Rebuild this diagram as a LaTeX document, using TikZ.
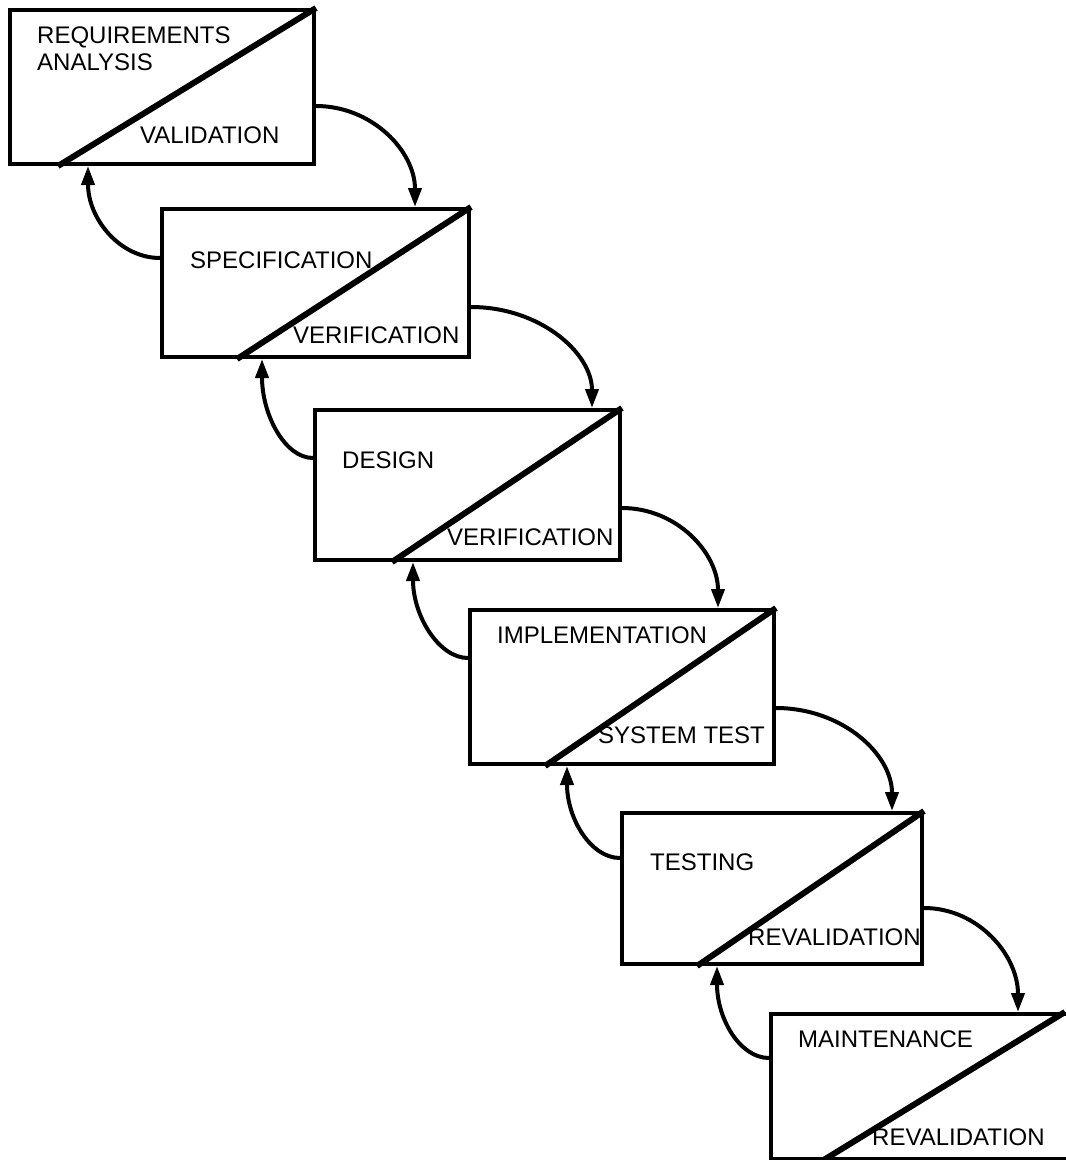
\documentclass[tikz,border=0pt]{standalone}
\usepackage{fontspec}
\setmainfont{Liberation Sans}
\usetikzlibrary{arrows.meta,calc}
\begin{document}
\begin{tikzpicture}[x=1pt,y=-1pt,
  stage/.style={draw,line width=4pt,rectangle,inner sep=0pt,anchor=north west},
  split/.style={line width=6pt,line cap=butt},
  lbl/.style={anchor=base west,inner sep=0pt,font=\fontsize{24}{26}\selectfont},
  flow/.style={line width=4pt,-{Triangle[length=19pt,width=13pt]}}
]
\clip (0,0) rectangle (1066,1160);
\fill[white] (0,0) rectangle (1066,1160);

% phase boxes
\node[stage,minimum width=304pt,minimum height=154pt] (b1) at (8,8) {};
\node[stage,minimum width=307pt,minimum height=148pt] (b2) at (160,207) {};
\node[stage,minimum width=305pt,minimum height=150pt] (b3) at (313,408) {};
\node[stage,minimum width=304pt,minimum height=154pt] (b4) at (468,608) {};
\node[stage,minimum width=300pt,minimum height=151pt] (b5) at (620,811) {};
\node[stage,minimum width=300pt,minimum height=145pt] (b6) at (769,1012) {};

% diagonal splits
\draw[split] ($(b1.south west)+(50,0)$) -- (b1.north east);
\draw[split] ($(b2.south west)+(77,0)$) -- (b2.north east);
\draw[split] ($(b3.south west)+(79,0)$) -- (b3.north east);
\draw[split] ($(b4.south west)+(77,0)$) -- (b4.north east);
\draw[split] ($(b5.south west)+(77,0)$) -- (b5.north east);
\draw[split] ($(b6.south west)+(53,0)$) -- ($(b6.north west)+(296,0)$);

% labels
\node[lbl] (t1a) at (37,43) {REQUIREMENTS};
\node[lbl] (t1b) at (37,70) {ANALYSIS};
\node[lbl] (t1c) at (140,143) {VALIDATION};
\node[lbl] (t2a) at (190,268) {SPECIFICATION};
\node[lbl] (t2b) at (293,343) {VERIFICATION};
\node[lbl] (t3a) at (342,468) {DESIGN};
\node[lbl] (t3b) at (447,545) {VERIFICATION};
\node[lbl] (t4a) at (497,643) {IMPLEMENTATION};
\node[lbl] (t4b) at (598,743) {SYSTEM TEST};
\node[lbl] (t5a) at (650,870) {TESTING};
\node[lbl] (t5b) at (748,945) {REVALIDATION};
\node[lbl] (t6a) at (798,1047) {MAINTENANCE};
\node[lbl] (t6b) at (872,1145) {REVALIDATION};

% forward flow
\draw[flow] ($(b1.north east)+(0,98)$) .. controls +(56,0) and +(0,-56) .. ($(b2.north west)+(255,0)$);
\draw[flow] ($(b2.north east)+(0,100)$) .. controls +(69,0) and +(0,-55) .. ($(b3.north west)+(279,0)$);
\draw[flow] ($(b3.north east)+(0,100)$) .. controls +(55,0) and +(0,-55) .. ($(b4.north west)+(250,0)$);
\draw[flow] ($(b4.north east)+(0,100)$) .. controls +(66,0) and +(0,-57) .. ($(b5.north west)+(272,0)$);
\draw[flow] ($(b5.north east)+(0,97)$) .. controls +(54,0) and +(0,-57) .. ($(b6.north west)+(249,0)$);

% feedback flow
\draw[flow] ($(b2.north west)+(0,51)$) .. controls +(-40,0) and +(0,53) .. ($(b1.south west)+(80,0)$);
\draw[flow] ($(b3.north west)+(0,50)$) .. controls +(-28,0) and +(0,56) .. ($(b2.south west)+(102,0)$);
\draw[flow] ($(b4.north west)+(0,50)$) .. controls +(-29,0) and +(0,54) .. ($(b3.south west)+(100,0)$);
\draw[flow] ($(b5.north west)+(0,47)$) .. controls +(-29,0) and +(0,53) .. ($(b4.south west)+(99,0)$);
\draw[flow] ($(b6.north west)+(0,46)$) .. controls +(-29,0) and +(0,53) .. ($(b5.south west)+(97,0)$);
\end{tikzpicture}
\end{document}
